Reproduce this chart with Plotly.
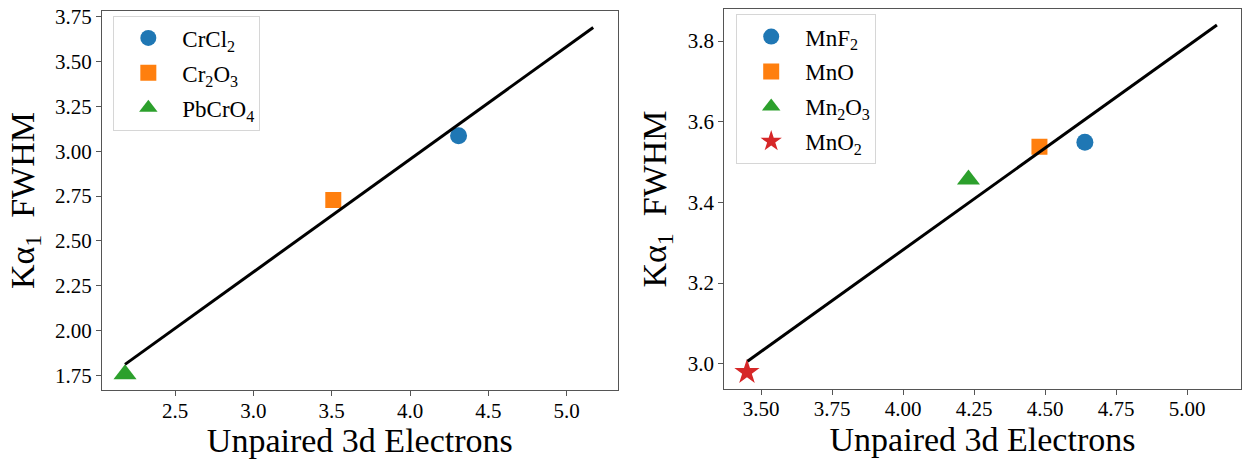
import plotly.graph_objects as go

# ---- Data: Cr compounds ----
cr_names = ["CrCl<sub>2</sub>", "Cr<sub>2</sub>O<sub>3</sub>", "PbCrO<sub>4</sub>"]
cr_x = [4.31, 3.51, 2.18]
cr_y = [3.086, 2.728, 1.756]
cr_fit_x = [2.18, 5.17]
cr_fit_y = [1.811, 3.691]

# ---- Data: Mn compounds ----
mn_names = ["MnF<sub>2</sub>", "MnO", "Mn<sub>2</sub>O<sub>3</sub>", "MnO<sub>2</sub>"]
mn_x = [4.64, 4.48, 4.23, 3.45]
mn_y = [3.549, 3.538, 3.457, 2.979]
mn_fit_x = [3.452, 5.105]
mn_fit_y = [3.006, 3.840]

cr_xticks = [2.5, 3.0, 3.5, 4.0, 4.5, 5.0]
cr_yticks = [1.75, 2.00, 2.25, 2.50, 2.75, 3.00, 3.25, 3.50, 3.75]
mn_xticks = [3.50, 3.75, 4.00, 4.25, 4.50, 4.75, 5.00]
mn_yticks = [3.0, 3.2, 3.4, 3.6, 3.8]

colors = ["#1f77b4", "#ff7f0e", "#2ca02c", "#d62728"]
symbols = ["circle", "square", "triangle-up", "star"]
sizes = [17, 16, 20, 19]

FONT = "Liberation Serif"

fig = go.Figure()

for i, (n, x, y) in enumerate(zip(cr_names, cr_x, cr_y)):
    fig.add_trace(go.Scatter(
        x=[x], y=[y], mode="markers", name=n, legend="legend",
        legendgroup="cr%d" % i,
        marker=dict(color=colors[i], symbol=symbols[i], size=sizes[i]),
        xaxis="x", yaxis="y"))
fig.add_trace(go.Scatter(x=cr_fit_x, y=cr_fit_y, mode="lines", showlegend=False,
                         line=dict(color="black", width=3), xaxis="x", yaxis="y"))

for i, (n, x, y) in enumerate(zip(mn_names, mn_x, mn_y)):
    fig.add_trace(go.Scatter(
        x=[x], y=[y], mode="markers", name=n, legend="legend2",
        legendgroup="mn%d" % i,
        marker=dict(color=colors[i], symbol=symbols[i], size=sizes[i]),
        xaxis="x2", yaxis="y2"))
fig.add_trace(go.Scatter(x=mn_fit_x, y=mn_fit_y, mode="lines", showlegend=False,
                         line=dict(color="black", width=3), xaxis="x2", yaxis="y2"))

axis_common = dict(showgrid=False, zeroline=False, showline=True, mirror=True,
                   linecolor="#555555", linewidth=1.3, ticks="outside", ticklen=5,
                   tickcolor="#555555", ticklabeloverflow="allow",
                   tickfont=dict(family=FONT, size=21, color="black"))

ytitle = "K\u03b1<sub>1</sub>\u00a0\u00a0FWHM"
xtitle = "Unpaired 3d Electrons"
title_font = dict(family=FONT, size=34, color="black")

legend_common = dict(font=dict(family=FONT, size=23, color="black"),
                     bordercolor="#d6d6d6", borderwidth=1, bgcolor="white",
                     xanchor="left", yanchor="top", tracegroupgap=2, itemwidth=58)

fig.update_layout(
    width=1244, height=459,
    margin=dict(l=0, r=0, t=0, b=0),
    plot_bgcolor="white", paper_bgcolor="white",
    font=dict(family=FONT),
    xaxis=dict(domain=[0.0820, 0.4965], range=[2.033, 5.326], tickvals=cr_xticks,
               tickformat=".1f", anchor="y", ticklabelstandoff=-4,
               title=dict(text=xtitle, font=title_font, standoff=3),
               **axis_common),
    yaxis=dict(domain=[0.1519, 0.9891], range=[1.667, 3.783], tickvals=cr_yticks,
               tickformat=".2f", anchor="x",
               title=dict(text=ytitle, font=title_font, standoff=10),
               **axis_common),
    xaxis2=dict(domain=[0.5822, 0.9974], range=[3.370, 5.189], tickvals=mn_xticks,
                tickformat=".2f", anchor="y2", ticklabelstandoff=-4,
                title=dict(text=xtitle, font=title_font, standoff=3),
                **axis_common),
    yaxis2=dict(domain=[0.1553, 0.9928], range=[2.938, 3.879], tickvals=mn_yticks,
                tickformat=".1f", anchor="x2",
                title=dict(text=ytitle, font=title_font, standoff=10),
                **axis_common),
    legend=dict(x=0.0911, y=0.979, **legend_common),
    legend2=dict(x=0.5918, y=0.982, **legend_common),
)

fig.write_html("out.html")
